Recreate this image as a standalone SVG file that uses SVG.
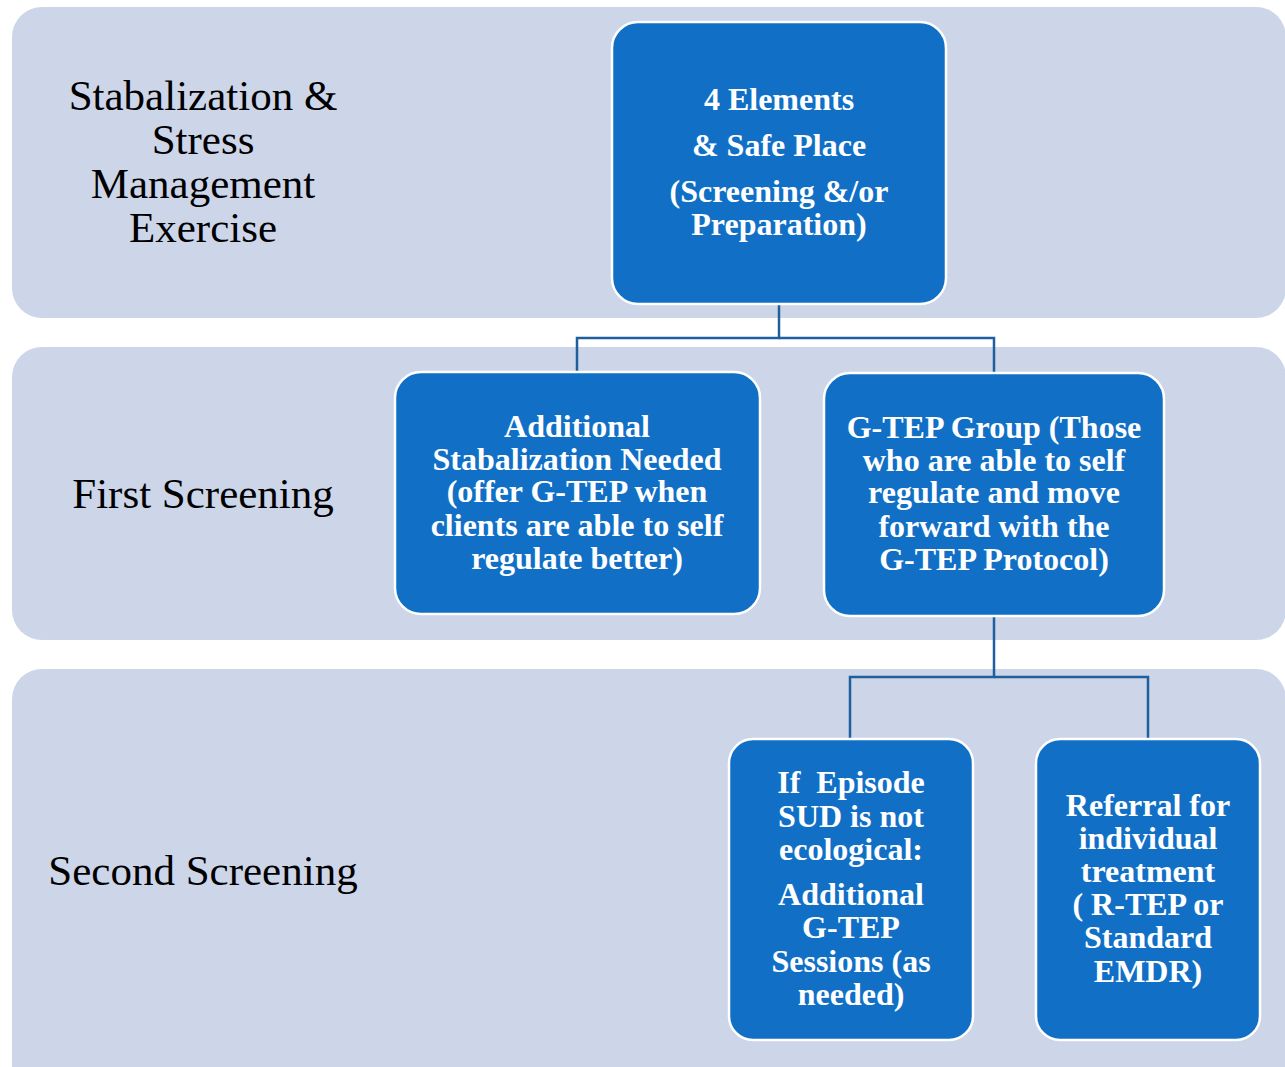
<svg xmlns="http://www.w3.org/2000/svg" width="1285" height="1067" viewBox="0 0 1285 1067">
<style>
.band{fill:#CDD5E9}
.node{fill:#1170C6;stroke:#FFFFFF;stroke-width:2.5}
.nt{font-family:"Liberation Serif","Times New Roman",serif;font-weight:bold;fill:#FFFFFF;text-anchor:middle;font-size:32px}
.lbl{font-family:"Liberation Serif","Times New Roman",serif;fill:#000000;text-anchor:middle;font-size:43px}
.conn{fill:none;stroke:#1F5F9E;stroke-width:2.5}
</style>
<rect width="1285" height="1067" fill="#FFFFFF"/>
<g id="bands">
<rect class="band" x="12" y="7" width="1274" height="311" rx="30"/>
<rect class="band" x="12" y="347" width="1274" height="293" rx="30"/>
<rect class="band" x="12" y="669" width="1274" height="430" rx="30"/>
</g>
<g id="labels">
<text class="lbl" x="203" y="110">Stabalization &amp;</text>
<text class="lbl" x="203" y="154">Stress</text>
<text class="lbl" x="203" y="198">Management</text>
<text class="lbl" x="203" y="242">Exercise</text>
<text class="lbl" x="203" y="508">First Screening</text>
<text class="lbl" x="203" y="885">Second Screening</text>
</g>
<g id="connectors">
<path class="conn" d="M779,304 V338 H577 V372"/>
<path class="conn" d="M779,338 H994 V373"/>
<path class="conn" d="M994,616 V677 H850 V739"/>
<path class="conn" d="M994,677 H1148 V739"/>
</g>
<g id="node1">
<rect class="node" x="612" y="22" width="334" height="282" rx="26"/>
<text class="nt" x="779" y="110">4 Elements</text>
<text class="nt" x="779" y="156">&amp; Safe Place</text>
<text class="nt" x="779" y="202">(Screening &amp;/or</text>
<text class="nt" x="779" y="235">Preparation)</text>
</g>
<g id="node2">
<rect class="node" x="395" y="372" width="365" height="242" rx="26"/>
<text class="nt" x="577" y="437">Additional</text>
<text class="nt" x="577" y="470">Stabalization Needed</text>
<text class="nt" x="577" y="502">(offer G-TEP when</text>
<text class="nt" x="577" y="536">clients are able to self</text>
<text class="nt" x="577" y="569">regulate better)</text>
</g>
<g id="node3">
<rect class="node" x="824" y="373" width="340" height="243" rx="26"/>
<text class="nt" x="994" y="438">G-TEP Group (Those</text>
<text class="nt" x="994" y="471">who are able to self</text>
<text class="nt" x="994" y="503">regulate and move</text>
<text class="nt" x="994" y="537">forward with the</text>
<text class="nt" x="994" y="570">G-TEP Protocol)</text>
</g>
<g id="node4">
<rect class="node" x="729" y="739" width="244" height="301" rx="24"/>
<text class="nt" x="851" y="793" xml:space="preserve" style="white-space:pre">If  Episode</text>
<text class="nt" x="851" y="827">SUD is not</text>
<text class="nt" x="851" y="860">ecological:</text>
<text class="nt" x="851" y="905">Additional</text>
<text class="nt" x="851" y="938">G-TEP</text>
<text class="nt" x="851" y="972">Sessions (as</text>
<text class="nt" x="851" y="1005">needed)</text>
</g>
<g id="node5">
<rect class="node" x="1036" y="739" width="224" height="301" rx="24"/>
<text class="nt" x="1148" y="816">Referral for</text>
<text class="nt" x="1148" y="849">individual</text>
<text class="nt" x="1148" y="882">treatment</text>
<text class="nt" x="1148" y="915">( R-TEP or</text>
<text class="nt" x="1148" y="948">Standard</text>
<text class="nt" x="1148" y="982">EMDR)</text>
</g>
</svg>
